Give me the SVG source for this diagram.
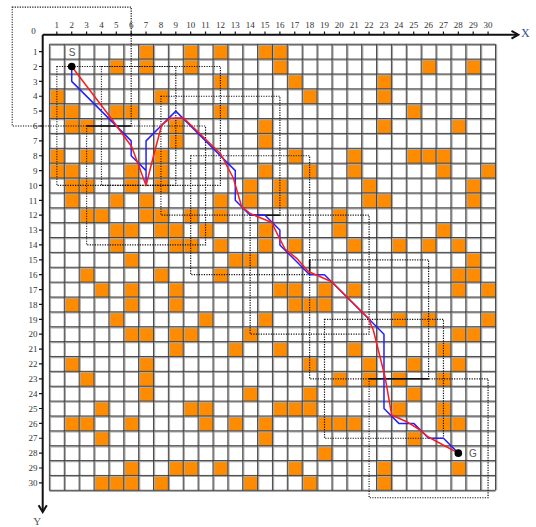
<svg xmlns="http://www.w3.org/2000/svg" width="536" height="527" viewBox="0 0 536 527">
<defs>
<style>
.o{fill:#FF8C00}
.gd{fill:none;stroke:#3a3a3a;stroke-width:0.9}
.gl{fill:none;stroke:#a8a8a8;stroke-width:1.6}
.ax{fill:none;stroke:#111;stroke-width:2}
.tk{fill:none;stroke:#111;stroke-width:1.2}
.nx{font-family:"Liberation Serif",serif;font-size:9px;fill:#333;text-anchor:middle}
.ny{font-family:"Liberation Serif",serif;font-size:9px;fill:#333;text-anchor:end}
.dr{fill:none;stroke:#111;stroke-width:1.2;stroke-dasharray:1.2 1.3}
.sol{fill:none;stroke:#111;stroke-width:1.6}
.lbl{font-family:"Liberation Sans",sans-serif;font-size:10px;fill:#555;text-anchor:middle}
</style>
</defs>
<rect width="536" height="527" fill="#fff"/>
<g id="obstacles" transform="translate(49.4 44.2) scale(14.87)">
<path class="o" d="M6 0h1v1h-1zM9 0h1v1h-1zM11 0h1v1h-1zM14 0h1v1h-1zM15 0h1v1h-1z
M4 1h1v1h-1zM6 1h1v1h-1zM9 1h1v1h-1zM15 1h1v1h-1zM25 1h1v1h-1zM28 1h1v1h-1z
M11 2h1v1h-1zM16 2h1v1h-1zM22 2h1v1h-1z
M0 3h1v1h-1zM7 3h1v1h-1zM17 3h1v1h-1zM22 3h1v1h-1z
M0 4h1v1h-1zM1 4h1v1h-1zM4 4h1v1h-1zM5 4h1v1h-1zM11 4h1v1h-1zM24 4h1v1h-1z
M1 5h1v1h-1zM2 5h1v1h-1zM8 5h1v1h-1zM14 5h1v1h-1zM22 5h1v1h-1zM27 5h1v1h-1z
M8 6h1v1h-1zM14 6h1v1h-1z
M0 7h1v1h-1zM2 7h1v1h-1zM7 7h1v1h-1zM16 7h1v1h-1zM20 7h1v1h-1zM24 7h1v1h-1zM25 7h1v1h-1zM26 7h1v1h-1z
M0 8h1v1h-1zM1 8h1v1h-1zM5 8h1v1h-1zM7 8h1v1h-1zM14 8h1v1h-1zM17 8h1v1h-1zM20 8h1v1h-1zM26 8h1v1h-1zM29 8h1v1h-1z
M1 9h1v1h-1zM2 9h1v1h-1zM5 9h1v1h-1zM7 9h1v1h-1zM13 9h1v1h-1zM15 9h1v1h-1zM21 9h1v1h-1zM28 9h1v1h-1z
M1 10h1v1h-1zM4 10h1v1h-1zM6 10h1v1h-1zM11 10h1v1h-1zM13 10h1v1h-1zM15 10h1v1h-1zM21 10h1v1h-1zM22 10h1v1h-1zM28 10h1v1h-1z
M2 11h1v1h-1zM3 11h1v1h-1zM6 11h1v1h-1zM7 11h1v1h-1zM9 11h1v1h-1zM11 11h1v1h-1zM19 11h1v1h-1z
M4 12h1v1h-1zM5 12h1v1h-1zM7 12h1v1h-1zM8 12h1v1h-1zM10 12h1v1h-1zM14 12h1v1h-1zM19 12h1v1h-1zM26 12h1v1h-1z
M4 13h1v1h-1zM8 13h1v1h-1zM9 13h1v1h-1zM11 13h1v1h-1zM14 13h1v1h-1zM16 13h1v1h-1zM20 13h1v1h-1zM23 13h1v1h-1zM25 13h1v1h-1zM27 13h1v1h-1z
M5 14h1v1h-1zM12 14h1v1h-1zM13 14h1v1h-1zM28 14h1v1h-1z
M2 15h1v1h-1zM7 15h1v1h-1zM11 15h1v1h-1zM27 15h1v1h-1zM28 15h1v1h-1z
M3 16h1v1h-1zM5 16h1v1h-1zM8 16h1v1h-1zM15 16h1v1h-1zM16 16h1v1h-1zM18 16h1v1h-1zM20 16h1v1h-1zM27 16h1v1h-1zM29 16h1v1h-1z
M1 17h1v1h-1zM5 17h1v1h-1zM8 17h1v1h-1zM16 17h1v1h-1zM17 17h1v1h-1zM18 17h1v1h-1z
M4 18h1v1h-1zM10 18h1v1h-1zM14 18h1v1h-1zM23 18h1v1h-1zM25 18h1v1h-1zM29 18h1v1h-1z
M5 19h1v1h-1zM6 19h1v1h-1zM8 19h1v1h-1zM9 19h1v1h-1zM13 19h1v1h-1zM27 19h1v1h-1zM28 19h1v1h-1z
M8 20h1v1h-1zM12 20h1v1h-1zM15 20h1v1h-1zM20 20h1v1h-1zM26 20h1v1h-1z
M1 21h1v1h-1zM6 21h1v1h-1zM17 21h1v1h-1zM21 21h1v1h-1zM24 21h1v1h-1zM27 21h1v1h-1z
M2 22h1v1h-1zM6 22h1v1h-1zM19 22h1v1h-1zM21 22h1v1h-1zM23 22h1v1h-1zM26 22h1v1h-1z
M6 23h1v1h-1zM13 23h1v1h-1zM17 23h1v1h-1zM24 23h1v1h-1z
M3 24h1v1h-1zM9 24h1v1h-1zM10 24h1v1h-1zM15 24h1v1h-1zM16 24h1v1h-1zM17 24h1v1h-1zM23 24h1v1h-1zM26 24h1v1h-1z
M1 25h1v1h-1zM2 25h1v1h-1zM5 25h1v1h-1zM10 25h1v1h-1zM12 25h1v1h-1zM14 25h1v1h-1zM18 25h1v1h-1zM19 25h1v1h-1zM20 25h1v1h-1zM26 25h1v1h-1zM27 25h1v1h-1z
M3 26h1v1h-1zM14 26h1v1h-1zM24 26h1v1h-1z
M18 27h1v1h-1z
M5 28h1v1h-1zM8 28h1v1h-1zM9 28h1v1h-1zM11 28h1v1h-1zM16 28h1v1h-1zM22 28h1v1h-1zM27 28h1v1h-1z
M3 29h1v1h-1zM4 29h1v1h-1zM5 29h1v1h-1zM7 29h1v1h-1zM13 29h1v1h-1zM17 29h1v1h-1zM22 29h1v1h-1z"/>
</g>
<g id="grid">
<path class="gl" d="M50.3 44.2V490.3M65.2 44.2V490.3M80 44.2V490.3M94.9 44.2V490.3M109.8 44.2V490.3M124.7 44.2V490.3M139.5 44.2V490.3M154.4 44.2V490.3M169.3 44.2V490.3M184.1 44.2V490.3M199 44.2V490.3M213.9 44.2V490.3M228.7 44.2V490.3M243.6 44.2V490.3M258.5 44.2V490.3M273.4 44.2V490.3M288.2 44.2V490.3M303.1 44.2V490.3M318 44.2V490.3M332.8 44.2V490.3M347.7 44.2V490.3M362.6 44.2V490.3M377.4 44.2V490.3M392.3 44.2V490.3M407.2 44.2V490.3M422.1 44.2V490.3M436.9 44.2V490.3M451.8 44.2V490.3M466.7 44.2V490.3M481.5 44.2V490.3M496.4 44.2V490.3
M49.4 45.1H495.5M49.4 60H495.5M49.4 74.8H495.5M49.4 89.7H495.5M49.4 104.6H495.5M49.4 119.5H495.5M49.4 134.3H495.5M49.4 149.2H495.5M49.4 164.1H495.5M49.4 178.9H495.5M49.4 193.8H495.5M49.4 208.7H495.5M49.4 223.5H495.5M49.4 238.4H495.5M49.4 253.3H495.5M49.4 268.2H495.5M49.4 283H495.5M49.4 297.9H495.5M49.4 312.8H495.5M49.4 327.6H495.5M49.4 342.5H495.5M49.4 357.4H495.5M49.4 372.2H495.5M49.4 387.1H495.5M49.4 402H495.5M49.4 416.9H495.5M49.4 431.7H495.5M49.4 446.6H495.5M49.4 461.5H495.5M49.4 476.3H495.5M49.4 491.2H495.5"/>
<path class="gd" d="M49.4 44.2V490.3M64.27 44.2V490.3M79.14 44.2V490.3M94.01 44.2V490.3M108.88 44.2V490.3M123.75 44.2V490.3M138.62 44.2V490.3M153.49 44.2V490.3M168.36 44.2V490.3M183.23 44.2V490.3M198.1 44.2V490.3M212.97 44.2V490.3M227.84 44.2V490.3M242.71 44.2V490.3M257.58 44.2V490.3M272.45 44.2V490.3M287.32 44.2V490.3M302.19 44.2V490.3M317.06 44.2V490.3M331.93 44.2V490.3M346.8 44.2V490.3M361.67 44.2V490.3M376.54 44.2V490.3M391.41 44.2V490.3M406.28 44.2V490.3M421.15 44.2V490.3M436.02 44.2V490.3M450.89 44.2V490.3M465.76 44.2V490.3M480.63 44.2V490.3M495.5 44.2V490.3
M49.4 44.2H495.5M49.4 59.07H495.5M49.4 73.94H495.5M49.4 88.81H495.5M49.4 103.68H495.5M49.4 118.55H495.5M49.4 133.42H495.5M49.4 148.29H495.5M49.4 163.16H495.5M49.4 178.03H495.5M49.4 192.9H495.5M49.4 207.77H495.5M49.4 222.64H495.5M49.4 237.51H495.5M49.4 252.38H495.5M49.4 267.25H495.5M49.4 282.12H495.5M49.4 296.99H495.5M49.4 311.86H495.5M49.4 326.73H495.5M49.4 341.6H495.5M49.4 356.47H495.5M49.4 371.34H495.5M49.4 386.21H495.5M49.4 401.08H495.5M49.4 415.95H495.5M49.4 430.82H495.5M49.4 445.69H495.5M49.4 460.56H495.5M49.4 475.43H495.5M49.4 490.3H495.5"/>
</g>
<g id="axes">
<path class="ax" d="M42.7 34.7H518M42.7 34.7V511.5"/>
<path class="ax" d="M511.5 30.8L518.3 34.7L511.5 38.6M38.6 505.3L42.7 512L46.8 505.3" stroke-linejoin="miter"/>
<path class="tk" d="M56.84 31.5V34.7M71.71 31.5V34.7M86.58 31.5V34.7M101.45 31.5V34.7M116.32 31.5V34.7M131.19 31.5V34.7M146.06 31.5V34.7M160.93 31.5V34.7M175.8 31.5V34.7M190.67 31.5V34.7M205.54 31.5V34.7M220.41 31.5V34.7M235.28 31.5V34.7M250.15 31.5V34.7M265.02 31.5V34.7M279.89 31.5V34.7M294.76 31.5V34.7M309.63 31.5V34.7M324.5 31.5V34.7M339.37 31.5V34.7M354.24 31.5V34.7M369.11 31.5V34.7M383.98 31.5V34.7M398.85 31.5V34.7M413.72 31.5V34.7M428.59 31.5V34.7M443.46 31.5V34.7M458.33 31.5V34.7M473.2 31.5V34.7M488.07 31.5V34.7
M39 51.64H42.7M39 66.51H42.7M39 81.38H42.7M39 96.25H42.7M39 111.12H42.7M39 125.99H42.7M39 140.86H42.7M39 155.73H42.7M39 170.6H42.7M39 185.47H42.7M39 200.34H42.7M39 215.21H42.7M39 230.08H42.7M39 244.95H42.7M39 259.82H42.7M39 274.69H42.7M39 289.56H42.7M39 304.43H42.7M39 319.3H42.7M39 334.17H42.7M39 349.04H42.7M39 363.91H42.7M39 378.78H42.7M39 393.65H42.7M39 408.52H42.7M39 423.39H42.7M39 438.26H42.7M39 453.13H42.7M39 468H42.7M39 482.87H42.7"/>
<text class="nx" x="33.5" y="33.5">0</text>
<g class="nx">
<text x="56.84" y="28">1</text><text x="71.71" y="28">2</text><text x="86.58" y="28">3</text><text x="101.45" y="28">4</text><text x="116.32" y="28">5</text><text x="131.19" y="28">6</text><text x="146.06" y="28">7</text><text x="160.93" y="28">8</text><text x="175.8" y="28">9</text><text x="190.67" y="28">10</text><text x="205.54" y="28">11</text><text x="220.41" y="28">12</text><text x="235.28" y="28">13</text><text x="250.15" y="28">14</text><text x="265.02" y="28">15</text><text x="279.89" y="28">16</text><text x="294.76" y="28">17</text><text x="309.63" y="28">18</text><text x="324.5" y="28">19</text><text x="339.37" y="28">20</text><text x="354.24" y="28">21</text><text x="369.11" y="28">22</text><text x="383.98" y="28">23</text><text x="398.85" y="28">24</text><text x="413.72" y="28">25</text><text x="428.59" y="28">26</text><text x="443.46" y="28">27</text><text x="458.33" y="28">28</text><text x="473.2" y="28">29</text><text x="488.07" y="28">30</text>
</g>
<g class="ny">
<text x="37.5" y="54.8">1</text><text x="37.5" y="69.7">2</text><text x="37.5" y="84.5">3</text><text x="37.5" y="99.4">4</text><text x="37.5" y="114.3">5</text><text x="37.5" y="129.2">6</text><text x="37.5" y="144">7</text><text x="37.5" y="158.9">8</text><text x="37.5" y="173.8">9</text><text x="37.5" y="188.6">10</text><text x="37.5" y="203.5">11</text><text x="37.5" y="218.4">12</text><text x="37.5" y="233.2">13</text><text x="37.5" y="248.1">14</text><text x="37.5" y="263">15</text><text x="37.5" y="277.9">16</text><text x="37.5" y="292.7">17</text><text x="37.5" y="307.6">18</text><text x="37.5" y="322.5">19</text><text x="37.5" y="337.3">20</text><text x="37.5" y="352.2">21</text><text x="37.5" y="367.1">22</text><text x="37.5" y="381.9">23</text><text x="37.5" y="396.8">24</text><text x="37.5" y="411.7">25</text><text x="37.5" y="426.6">26</text><text x="37.5" y="441.4">27</text><text x="37.5" y="456.3">28</text><text x="37.5" y="471.2">29</text><text x="37.5" y="486">30</text>
</g>
<text x="521" y="37" font-family="Liberation Serif,serif" font-size="12" fill="#2F4F8F">X</text>
<text x="37.3" y="525" font-family="Liberation Serif,serif" font-size="11" fill="#555" text-anchor="middle">Y</text>
</g>
<g id="windows">
<rect class="dr" x="12.23" y="7.03" width="118.96" height="118.96"/>
<rect class="dr" x="56.84" y="66.51" width="118.96" height="118.96"/>
<rect class="dr" x="101.45" y="66.51" width="118.96" height="118.96"/>
<rect class="dr" x="86.58" y="125.99" width="118.96" height="118.96"/>
<rect class="dr" x="160.93" y="96.25" width="118.96" height="118.96"/>
<rect class="dr" x="190.67" y="155.73" width="118.96" height="118.96"/>
<rect class="dr" x="250.15" y="215.21" width="118.96" height="118.96"/>
<rect class="dr" x="309.63" y="259.82" width="118.96" height="118.96"/>
<rect class="dr" x="324.5" y="319.3" width="118.96" height="118.96"/>
<rect class="dr" x="369.11" y="378.78" width="118.96" height="118.96"/>
<path class="sol" d="M86.58 125.99H131.19M250.15 215.21H279.89M309.63 259.82V274.69M369.11 378.78H428.59"/>
</g>
<g id="connectors" fill="none" stroke-width="1.5" stroke-linejoin="round">
<polyline id="blue-path" stroke="#2222FF" points="71.71,66.51 71.71,81.38 131.19,140.86 131.19,155.73 146.06,170.6 146.06,185.47 146.06,140.86 160.93,125.99 175.8,111.12 220.41,155.73 235.28,170.6 235.28,200.34 250.15,215.21 265.02,215.21 279.89,230.08 279.89,244.95 294.76,259.82 309.63,274.69 324.5,274.69 369.11,319.3 383.98,334.17 383.98,408.52 398.85,423.39 413.72,423.39 428.59,438.26 443.46,438.26 458.33,453.13"/>
<polyline id="red-path" stroke="#FF1A1A" points="71.71,66.51 110,116.7 131.7,146.7 146.06,185.47 153.3,156.7 161.7,125 170,118.3 183.3,117.7 220.41,153.5 233.3,178 241.7,206.7 250.15,213.5 271.7,222.5 277,233.3 285,249 296.7,258.3 308.3,271.5 331.7,281.7 368.3,318.3 373.3,330 378.3,350 385,376.7 391.7,415 406.7,421.7 420,430 428.3,437 458.33,453.13"/>
</g>
<g id="start">
<circle cx="71.71" cy="66.51" r="3.8" fill="#000"/>
<text class="lbl" x="72" y="55.5">S</text>
</g>
<g id="goal">
<circle cx="458.33" cy="453.13" r="3.8" fill="#000"/>
<text class="lbl" x="473" y="457">G</text>
</g>
</svg>
